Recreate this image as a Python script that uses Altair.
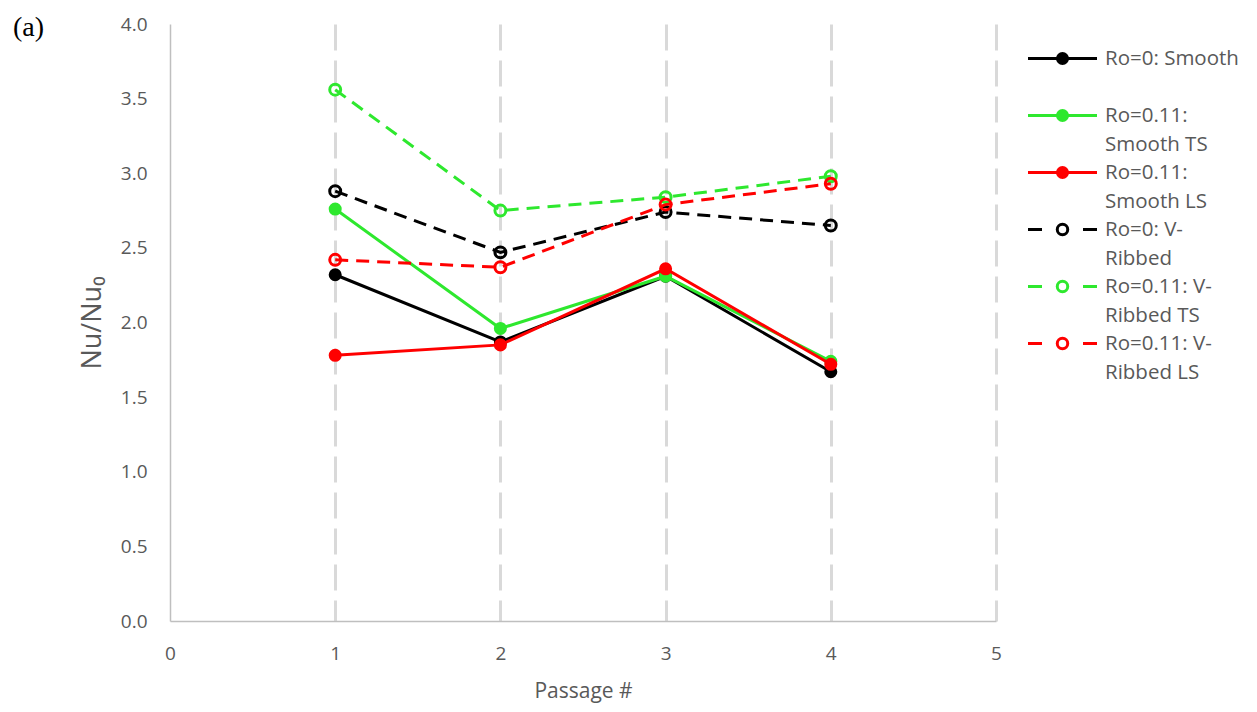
import altair as alt
import pandas as pd

# ---------------- data ----------------
passages = [1, 2, 3, 4]
series_names = [
    "Ro=0: Smooth",
    "Ro=0.11: Smooth TS",
    "Ro=0.11: Smooth LS",
    "Ro=0: V-Ribbed",
    "Ro=0.11: V-Ribbed TS",
    "Ro=0.11: V-Ribbed LS",
]
smooth_ro0 = [2.32, 1.87, 2.31, 1.67]
smooth_ts = [2.76, 1.96, 2.31, 1.74]
smooth_ls = [1.78, 1.85, 2.36, 1.72]
ribbed_ro0 = [2.88, 2.47, 2.74, 2.65]
ribbed_ts = [3.56, 2.75, 2.84, 2.98]
ribbed_ls = [2.42, 2.37, 2.79, 2.93]
all_values = [smooth_ro0, smooth_ts, smooth_ls, ribbed_ro0, ribbed_ts, ribbed_ls]

legend_line1 = ["Ro=0: Smooth", "Ro=0.11:", "Ro=0.11:", "Ro=0: V-", "Ro=0.11: V-", "Ro=0.11: V-"]
legend_line2 = ["", "Smooth TS", "Smooth LS", "Ribbed", "Ribbed TS", "Ribbed LS"]
x_ticks = [0, 1, 2, 3, 4, 5]
y_ticks = [0, 0.5, 1.0, 1.5, 2.0, 2.5, 3.0, 3.5, 4.0]
panel_label = ["(a)"]

# ---------------- style ----------------
colors = ["#000000", "#2ee82e", "#ff0000", "#000000", "#2ee82e", "#ff0000"]
solid_flags = [True, True, True, False, False, False]
FONT = "Open Sans"
GRAY = "#595959"
AXIS_GRAY = "#bfbfbf"
W, H = 826, 597
PLOT_TOP = 23.5          # expected page y of plot top
ROW0, ROW_STEP = 58, 57  # legend rows (page px)

x_enc = alt.X(
    "passage:Q",
    scale=alt.Scale(domain=[0, 5], nice=False, zero=False),
    axis=alt.Axis(
        values=x_ticks, format="d", title="Passage #", labelFlush=False,
        grid=True, gridColor="#d9d9d9", gridWidth=3, gridDash=[26, 10],
        gridOpacity={"condition": {"test": "datum.value === 0", "value": 0}, "value": 1},
        ticks=False, tickSize=0, domainColor=AXIS_GRAY, domainWidth=1.5,
        labelFont=FONT, labelFontSize=19, labelColor=GRAY, labelPadding=23,
        titleFont=FONT, titleFontSize=21, titleColor=GRAY, titleFontWeight="normal",
        titlePadding=17,
    ),
)
y_enc = alt.Y(
    "nu:Q",
    scale=alt.Scale(domain=[0, 4], nice=False),
    axis=alt.Axis(
        values=y_ticks, format=".1f", title="Nu/Nu₀", grid=False, labelFlush=False,
        ticks=False, tickSize=0, domainColor=AXIS_GRAY, domainWidth=1.5,
        labelFont=FONT, labelFontSize=19, labelColor=GRAY, labelPadding=23,
        titleFont=FONT, titleFontSize=27, titleColor=GRAY, titleFontWeight="normal",
        titlePadding=14,
    ),
)

layers = []
for name, vals, col, solid in zip(series_names, all_values, colors, solid_flags):
    df = pd.DataFrame({"passage": passages, "nu": vals, "series": name})
    base = alt.Chart(df).encode(x=x_enc, y=y_enc)
    line_kw = dict(color=col, strokeWidth=3)
    if not solid:
        line_kw["strokeDash"] = [13, 8]
    layers.append(base.mark_line(**line_kw))
    if solid:
        layers.append(base.mark_point(filled=True, color=col, size=170, opacity=1))
    else:
        layers.append(base.mark_point(filled=False, color=col, size=120, strokeWidth=3, opacity=1))

label_chart = alt.Chart(pd.DataFrame({"t": panel_label})).mark_text(
    font="Liberation Serif", fontSize=28, color="#000000", align="left", baseline="middle"
).encode(x=alt.value(-157), y=alt.value(4), text="t:N")
layers.append(label_chart)

main = alt.layer(*layers).properties(width=W, height=H)

# ---------------- legend panel ----------------
leg_df = pd.DataFrame({
    "row": list(range(len(series_names))),
    "series": series_names,
    "line1": legend_line1,
    "line2": legend_line2,
})
top_idx = -(ROW0 - PLOT_TOP) / ROW_STEP
bot_idx = top_idx + H / ROW_STEP
color_enc = alt.Color("series:N", scale=alt.Scale(domain=series_names, range=colors), legend=None)
ly = alt.Y("row:Q", scale=alt.Scale(domain=[top_idx, bot_idx], reverse=True, nice=False, zero=False), axis=None)
lbase = alt.Chart(leg_df).encode(y=ly, color=color_enc)
solid_rows = "datum.row < 3"
dash_rows = "datum.row >= 3"

leg_layers = [
    lbase.transform_filter(solid_rows).mark_rule(strokeWidth=3).encode(x=alt.value(0), x2=alt.value(69)),
    lbase.transform_filter(dash_rows).mark_rule(strokeWidth=3, strokeDash=[14, 41]).encode(x=alt.value(0), x2=alt.value(69)),
    lbase.transform_filter(solid_rows).mark_point(filled=True, size=170, opacity=1).encode(x=alt.value(34.5)),
    lbase.transform_filter(dash_rows).mark_point(filled=False, size=110, strokeWidth=3, opacity=1).encode(x=alt.value(34.5)),
    alt.Chart(leg_df).mark_text(font=FONT, fontSize=20.5, color=GRAY, align="left", baseline="middle")
    .encode(x=alt.value(77), y=ly, text="line1:N"),
    alt.Chart(leg_df).mark_text(font=FONT, fontSize=20.5, color=GRAY, align="left", baseline="middle", dy=29)
    .encode(x=alt.value(77), y=ly, text="line2:N"),
]
legend = alt.layer(*leg_layers).properties(width=210, height=H)

chart = (
    alt.hconcat(main, legend, spacing=24)
    .properties(padding={"left": 5, "top": 6, "right": 5, "bottom": 5}, background="white")
    .configure_view(stroke=None)
)

chart.save("out.html", embed_options={"renderer": "svg", "actions": False})
